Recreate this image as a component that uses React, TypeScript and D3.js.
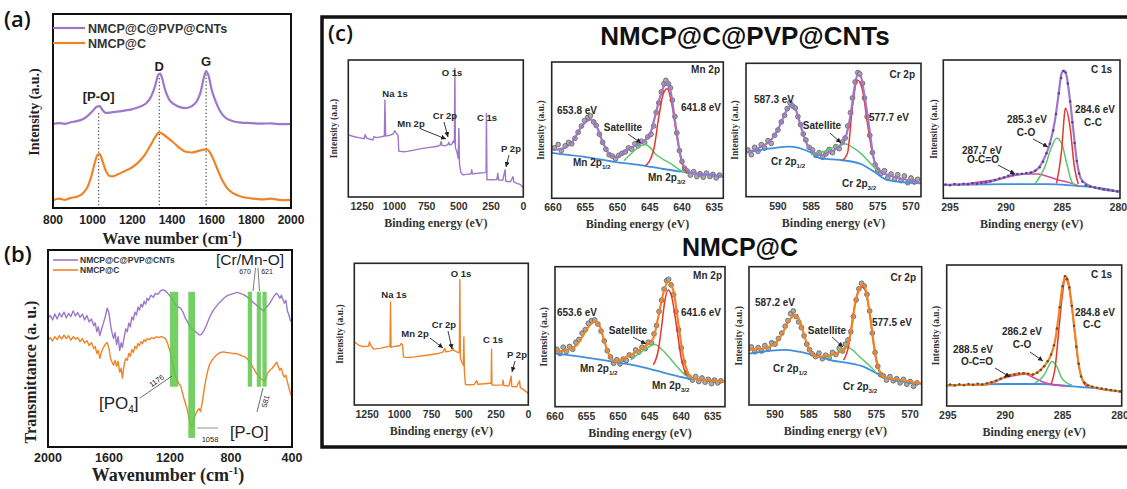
import React from "react";
import * as d3 from "d3";

type P = [number, number];

const SANS = "'Liberation Sans', Arial, Helvetica, sans-serif";
const SERIF = "'Liberation Serif', 'Times New Roman', Times, serif";
const PURPLE = "#9e78c8";
const ORANGE = "#ef8427";
const XBLUE = "#3f8fdc";
const XRED = "#e8362c";
const XGREEN = "#5ec66e";
const XPINK = "#d9479a";
const BAND = "#5cc84a";
const INK = "#2a2a2a";

// ---------------- (a) Raman ----------------
const seriesNames = ["NMCP@C@PVP@CNTs", "NMCP@C"];
const ramanTicks = [800, 1000, 1200, 1400, 1600, 1800, 2000];
const ramanPVP: P[] = [
  [800, 43.3], [830, 43.8], [860, 43.4], [890, 44.2], [920, 44.8], [950, 45.8], [975, 47.5], [1000, 50], [1020, 52.2], [1035, 52.5],
  [1050, 50.5], [1065, 49], [1090, 49.2], [1120, 49.6], [1160, 50.2], [1200, 51], [1240, 52.3], [1270, 54], [1295, 57.5], [1315, 63],
  [1330, 68.5], [1340, 69.3], [1350, 67], [1365, 61], [1385, 56], [1410, 53.5], [1440, 52], [1470, 51.5], [1500, 52.5], [1525, 55],
  [1545, 60], [1560, 67], [1572, 70.6], [1585, 68], [1600, 61], [1620, 55], [1645, 49.5], [1670, 46.5], [1700, 45], [1750, 44],
  [1800, 43.8], [1850, 43.5], [1900, 43.6], [1950, 43.2], [2000, 43.3],
];
const ramanNMCP: P[] = [
  [800, 4], [830, 4.8], [860, 4.2], [890, 5.2], [920, 5.8], [950, 7.5], [975, 11], [995, 17], [1010, 23], [1025, 27.5], [1035, 27.8],
  [1050, 24], [1065, 19.5], [1085, 16.5], [1100, 16.3], [1130, 17.5], [1160, 19], [1200, 21], [1230, 23.5], [1260, 27], [1290, 32],
  [1315, 36.5], [1335, 39], [1355, 38], [1380, 36], [1410, 33.5], [1440, 30.8], [1470, 29], [1500, 28.6], [1530, 29.3], [1555, 30],
  [1575, 30.2], [1595, 28], [1615, 23.5], [1635, 18.5], [1655, 14], [1680, 10], [1710, 7.5], [1750, 5.8], [1800, 5], [1850, 4.4],
  [1900, 4.8], [1950, 4.1], [2000, 4.2],
];
const ramanBands = [
  { wn: 1030, label: "[P-O]", top: 49, labelV: 55 },
  { wn: 1336, label: "D", top: 67, labelV: 70.5 },
  { wn: 1572, label: "G", top: 69, labelV: 73 },
];

// ---------------- (b) FTIR ----------------
const ftirTicks = [2000, 1600, 1200, 800, 400];
const ftirPVP: P[] = [
  [2000, 65.3], [1985, 66.8], [1970, 64.5], [1955, 67.5], [1940, 65], [1925, 68], [1910, 66], [1895, 68.5], [1880, 65.5], [1865, 67.8],
  [1850, 66.2], [1835, 69], [1820, 66.5], [1805, 68.3], [1790, 65.8], [1775, 67.5], [1760, 64.5], [1745, 66.8], [1730, 63.5], [1715, 65],
  [1700, 61.5], [1690, 63], [1680, 58.5], [1670, 61], [1660, 56.5], [1650, 59.5], [1640, 62], [1625, 66], [1612, 70.5], [1600, 68],
  [1590, 62], [1580, 58], [1570, 55], [1560, 58], [1550, 52], [1540, 56], [1530, 49], [1520, 53], [1512, 50.5], [1500, 56], [1490, 60],
  [1480, 58.5], [1470, 63], [1460, 61], [1450, 66], [1440, 64.5], [1430, 68.5], [1420, 67], [1410, 71], [1400, 69.5], [1390, 72.5],
  [1380, 71], [1370, 74], [1360, 72.5], [1350, 75.5], [1340, 74.5], [1325, 77], [1310, 76], [1295, 78], [1280, 77.5], [1265, 79],
  [1250, 79.8], [1235, 79.5], [1220, 78.5], [1205, 77.2], [1190, 75.5], [1175, 73.5], [1160, 72], [1145, 71], [1130, 70.5], [1115, 68.5],
  [1100, 65.5], [1085, 63.5], [1070, 61], [1055, 60], [1040, 59], [1025, 58], [1010, 57], [1000, 56.9], [990, 57.5], [975, 59.5],
  [960, 62], [945, 65], [930, 67.5], [915, 69.5], [900, 71], [880, 73], [860, 74.5], [840, 76], [820, 77], [800, 77.5], [780, 78],
  [760, 78.5], [740, 78], [720, 77.5], [700, 76.5], [685, 75.5], [670, 74.5], [655, 73.5], [640, 72.5], [625, 71.5], [610, 70.5],
  [595, 69.5], [585, 69], [575, 70.5], [560, 71.5], [545, 73], [530, 75], [515, 77], [500, 78], [490, 77], [480, 75.5], [470, 77],
  [460, 75], [450, 73], [440, 74.5], [430, 69], [420, 67], [410, 64], [400, 63.5],
];
const ftirNMCP: P[] = [
  [2000, 54.3], [1985, 55.5], [1970, 53.8], [1955, 56], [1940, 54.5], [1925, 56.5], [1910, 54.8], [1895, 56.8], [1880, 55], [1865, 56.5],
  [1850, 54.2], [1835, 56], [1820, 54.8], [1805, 55.5], [1790, 53.5], [1775, 55], [1760, 52.8], [1745, 54], [1730, 51.5], [1715, 53],
  [1700, 50], [1690, 51], [1680, 47.5], [1670, 49], [1660, 45], [1650, 48], [1640, 50], [1625, 52], [1612, 53], [1600, 50], [1590, 45],
  [1580, 43], [1570, 41.5], [1560, 44], [1550, 41], [1540, 43.5], [1530, 38], [1520, 40], [1512, 35], [1500, 42], [1490, 45], [1480, 44],
  [1470, 47.5], [1460, 46], [1450, 49.5], [1440, 48], [1430, 51], [1420, 50], [1410, 52.5], [1400, 51.5], [1390, 53.5], [1380, 52.5],
  [1370, 54.5], [1360, 53.5], [1350, 55], [1335, 54.5], [1320, 55.5], [1305, 55], [1290, 56], [1275, 55.5], [1260, 56], [1245, 55.8],
  [1230, 55], [1215, 52.5], [1200, 48.5], [1190, 45], [1180, 41], [1170, 37.5], [1160, 35], [1150, 33.5], [1140, 32], [1130, 31],
  [1120, 28], [1110, 25], [1100, 22.5], [1090, 20], [1080, 16.5], [1070, 13], [1060, 10.5], [1050, 11.5], [1040, 15], [1030, 17],
  [1020, 18.5], [1010, 19.5], [1000, 18], [990, 22], [980, 27], [970, 32], [960, 36], [950, 39.5], [940, 42], [925, 44], [910, 45.5],
  [890, 47], [870, 48], [850, 48.3], [830, 48], [810, 47.8], [790, 47.5], [770, 47.5], [750, 47], [735, 46.5], [720, 46], [705, 45.5],
  [690, 44.5], [675, 43], [660, 41], [645, 39], [630, 37], [615, 35.5], [600, 34.5], [590, 34], [580, 33.5], [570, 35], [560, 37.5],
  [545, 39], [530, 40], [515, 41.5], [500, 43], [490, 41], [480, 39], [470, 40], [460, 37], [450, 35.5], [440, 36.5], [430, 33],
  [420, 30], [410, 27], [400, 25.6],
];
// [from wn, to wn, bottom, top]
const ftirBands: [number, number, number, number][] = [
  [1200, 1146, 30.6, 78.8],
  [1080, 1036, 4.6, 78.8],
  [690, 662, 30.6, 78.8],
  [631, 604, 30.6, 78.8],
  [594, 566, 30.6, 78.8],
];

// ---------------- (c) XPS ----------------
const surveyTicks = [1250, 1000, 750, 500, 250, 0];
const mnTicks = [660, 655, 650, 645, 640, 635];
const crTicks = [590, 585, 580, 575, 570];
const c1sTicks = [295, 290, 285, 280];

const surveyPVP: P[] = [
  [1358, 45.3], [1330, 44.5], [1300, 43.8], [1270, 43.2], [1235, 42.5], [1228, 45.5], [1215, 43], [1180, 42], [1168, 41.5], [1160, 44],
  [1140, 43.3], [1100, 44], [1078, 44.5], [1074, 70.8], [1068, 44.5], [1040, 45], [1010, 46], [998, 48.4], [985, 46.5], [972, 45],
  [966, 33.5], [930, 33], [900, 33.3], [860, 34], [820, 34.8], [780, 35.5], [740, 36], [700, 36.5], [660, 37.2], [645, 37.8], [638, 40.5],
  [630, 37.5], [600, 37.5], [585, 38.5], [578, 40], [572, 38], [555, 38.5], [542, 41], [535, 39.5], [531, 93.9], [527, 36], [515, 33],
  [505, 28], [500, 50.1], [495, 24], [485, 18], [470, 16.2], [440, 16.5], [405, 17], [400, 19.9], [395, 17], [350, 17.3], [300, 17.8],
  [289, 18], [286, 61], [282, 12.5], [250, 12.6], [205, 12.8], [198, 17.3], [192, 12.5], [160, 12.2], [141, 19.9], [136, 11.5],
  [100, 11.1], [80, 14.8], [74, 11], [50, 10], [25, 9.2], [0, 6.9],
];
const surveyNMCP: P[] = [
  [1350, 44.6], [1320, 42.5], [1290, 41.3], [1240, 41.5], [1232, 44.6], [1222, 42], [1200, 39.4], [1150, 40], [1100, 41], [1073, 41.5],
  [1069, 72.7], [1065, 40.7], [1030, 41.5], [995, 42], [985, 43.5], [975, 42], [968, 33.8], [930, 33.5], [880, 34], [820, 34.8],
  [760, 35.5], [700, 36.3], [660, 37.5], [648, 40], [640, 37.5], [610, 38], [592, 38.5], [586, 40.5], [578, 38.5], [555, 37.5],
  [540, 37], [535, 37], [531, 88.5], [527, 33], [515, 30], [504, 28], [500, 48.1], [496, 24], [488, 14.5], [460, 14.3], [420, 14.5],
  [400, 17.1], [392, 14.6], [340, 15], [300, 15.3], [288, 15.4], [285, 39.4], [282, 14.1], [240, 14], [200, 14.2], [195, 17.5],
  [190, 13.8], [150, 13.5], [133, 20.4], [128, 13], [90, 12.9], [68, 17.1], [62, 12.3], [40, 11], [20, 9.6], [0, 8.2],
];

// Mn 2p (top: NMCP@C@PVP@CNTs)
const mnTopEnv: P[] = [
  [660.2, 35.4], [658.4, 36.6], [656.8, 42.7], [655.8, 51.2], [654.5, 57.3], [654.0, 57.8], [653.2, 52.4], [652.2, 40.2], [651.1, 31.7],
  [650.1, 30.4], [648.6, 35.4], [647.0, 39.0], [645.7, 42.7], [644.9, 47.6], [644.2, 59.7], [643.4, 74.4], [642.6, 84.1], [642.3, 85.0],
  [641.8, 79.2], [641.1, 57.3], [640.3, 32.9], [639.5, 21.9], [638.2, 18.3], [636.1, 17.1], [633.6, 15.9],
];
const mnTopBg: P[] = [
  [660.2, 33.4], [655.3, 30.5], [650.6, 26.8], [646.5, 24.4], [642.9, 21.5], [640.0, 19.5], [636.1, 17.5], [633.6, 16.3],
];
const mnTopRed: P[] = [
  [645.7, 23.6], [644.4, 35.4], [643.6, 59.7], [642.9, 76.8], [642.3, 80.4], [641.6, 69.5], [640.8, 45.2], [640.0, 25.6], [639.2, 18.7],
];
const mnTopGreen: P[] = [
  [649.0, 27.5], [647.5, 34.5], [646.5, 38.3], [645.7, 39.5], [644.9, 37.0], [644.2, 32.9], [643.0, 28.8], [641.8, 25.6], [640.3, 20.7], [639.2, 18.5],
];
const mnTopData: P[] = [
  [659.8, 37], [659.2, 39.5], [658.7, 35], [658.1, 38.5], [657.6, 41], [657.1, 40], [656.6, 44], [656.1, 48.5], [655.6, 53], [655.1, 57],
  [654.6, 59.5], [654.2, 60.5], [653.7, 56], [653.3, 53.5], [652.8, 47], [652.3, 41], [651.8, 36], [651.3, 32], [650.8, 31], [650.3, 29],
  [649.8, 31.5], [649.3, 33], [648.8, 34], [648.3, 37], [647.8, 36], [647.3, 40], [646.8, 38.5], [646.3, 42], [645.8, 41], [645.3, 45],
  [644.8, 47], [644.4, 53], [644.0, 63], [643.6, 70], [643.2, 78], [642.8, 84], [642.5, 86.5], [642.1, 84], [641.8, 81], [641.5, 72],
  [641.1, 60], [640.8, 48], [640.4, 35], [640.0, 27], [639.6, 22], [639.2, 20], [638.7, 17], [638.2, 19.5], [637.7, 16], [637.2, 18],
  [636.7, 15.5], [636.2, 18.5], [635.7, 16], [635.2, 17.5], [634.7, 15], [634.2, 17],
];

// Cr 2p (top)
const crTopEnv: P[] = [
  [594.8, 33.0], [594.3, 33.7], [592.55, 37.5], [591.05, 42.5], [589.8, 52.5], [588.8, 63.7], [588.05, 68.7], [587.3, 64.9], [586.55, 52.5],
  [585.8, 41.2], [584.8, 33.7], [583.55, 31.2], [582.05, 33.7], [580.55, 38.7], [579.8, 45.0], [579.05, 62.5], [578.55, 80.0], [578.05, 91.2],
  [577.55, 90.0], [577.05, 77.5], [576.3, 52.5], [575.55, 27.5], [574.55, 18.7], [572.55, 15.0], [570.55, 12.5], [568.5, 10.0],
];
const crTopBg: P[] = [
  [594.8, 33.0], [591.05, 36.2], [588.3, 37.5], [585.3, 33.7], [583.55, 28.7], [580.55, 27.5], [577.55, 24.5], [575.55, 18.7], [573.55, 12.5], [568.5, 10.0],
];
const crTopRed: P[] = [
  [580.3, 27.0], [579.55, 32.5], [578.8, 67.5], [578.05, 87.5], [577.3, 80.0], [576.55, 55.0], [575.8, 32.5], [575.05, 21.2], [574.55, 19.0],
];
const crTopGreen: P[] = [
  [585.0, 31.5], [582.8, 34.5], [580.8, 38.5], [579.8, 39.5], [578.8, 37.0], [577.55, 32.5], [576.55, 27.5], [575.55, 22.0], [575.05, 19.5],
];
const crTopData: P[] = [
  [594.5, 35], [594.0, 31.5], [593.5, 37], [593.0, 34], [592.5, 39], [592.0, 36.5], [591.5, 42], [591.0, 40], [590.5, 46], [590.0, 50],
  [589.5, 56], [589.0, 61], [588.6, 66], [588.2, 70.5], [587.8, 68], [587.4, 66.5], [587.0, 60], [586.6, 54], [586.2, 47], [585.8, 42.5],
  [585.3, 37], [584.8, 35], [584.3, 31], [583.8, 33], [583.3, 29.5], [582.8, 32], [582.3, 35.5], [581.8, 33], [581.3, 37.5], [580.8, 36],
  [580.3, 41], [579.9, 44], [579.5, 53], [579.1, 63], [578.8, 74], [578.4, 86], [578.0, 93], [577.7, 92], [577.3, 85], [577.0, 74],
  [576.6, 60], [576.2, 46], [575.8, 33], [575.4, 24], [575.0, 20], [574.5, 17.5], [574.0, 19.5], [573.5, 14], [573.0, 17], [572.5, 13],
  [572.0, 16.5], [571.5, 12], [571.0, 15.5], [570.5, 10.5], [570.0, 14], [569.5, 11], [569.0, 13],
];

// C 1s (top)
const c1sTopEnv: P[] = [
  [295.6, 9.6], [293.67, 10.2], [292.18, 10.8], [290.7, 13.7], [289.5, 16.8], [288.0, 18.0], [287.13, 21.7], [286.54, 30.1], [286.09, 39.8],
  [285.64, 56.6], [285.35, 73.5], [285.05, 90.4], [284.84, 92.3], [284.6, 88.0], [284.31, 71.1], [284.01, 49.4], [283.71, 27.7],
  [283.27, 13.3], [282.37, 8.4], [279.85, 4.8],
];
const c1sTopBg: P[] = [[295.6, 9.6], [290.0, 10.3], [286.24, 10.3], [283.92, 9.1], [282.0, 7.8], [279.85, 4.8]];
const c1sTopRed: P[] = [
  [285.5, 10.8], [285.05, 34.9], [284.75, 63.9], [284.69, 65.1], [284.31, 51.8], [283.92, 22.9], [283.57, 10.3],
];
const c1sTopGreen: P[] = [
  [287.43, 10.3], [286.54, 22.9], [285.94, 37.3], [285.5, 43.4], [285.05, 39.8], [284.6, 25.2], [284.16, 12.1], [283.86, 9.6],
];
const c1sTopPink: P[] = [
  [293.67, 10.3], [290.7, 13.7], [288.3, 17.5], [287.13, 17.5], [286.24, 15.6], [285.35, 13.3], [284.46, 11.5], [283.57, 9.1],
];
const c1sTopData: P[] = [
  [295.4, 10.0], [295.0, 9.5], [294.6, 10.3], [294.2, 9.8], [293.8, 10.6], [293.4, 10.1], [293.0, 10.9], [292.6, 10.5], [292.2, 11.2],
  [291.8, 11.6], [291.4, 12.4], [291.0, 13.2], [290.6, 14.3], [290.2, 15.1], [289.8, 16.3], [289.4, 16.9], [289.0, 17.6], [288.6, 17.8],
  [288.2, 18.3], [287.8, 18.6], [287.4, 19.9], [287.0, 22.5], [286.7, 26.5], [286.4, 32.5], [286.1, 39.5], [285.8, 49], [285.55, 61],
  [285.3, 76], [285.1, 87], [284.9, 92], [284.7, 91], [284.5, 83], [284.3, 70], [284.1, 55], [283.9, 40], [283.7, 27], [283.5, 18],
  [283.2, 12], [282.9, 9.5], [282.5, 8.6], [282.1, 7.8], [281.7, 7.2], [281.3, 6.6], [280.9, 6.0], [280.5, 5.5], [280.1, 5.0],
];

// Mn 2p (bottom: NMCP@C)
const mnBotEnv: P[] = [
  [660, 39.3], [658.15, 40.5], [656.57, 44], [655.51, 51.2], [654.45, 58.3], [653.66, 60.7], [652.87, 57.1], [652.08, 45.2], [651.28, 35.7],
  [650.23, 32.1], [648.64, 35.7], [647.06, 39.3], [645.47, 44], [644.42, 48.8], [643.62, 64.3], [642.83, 81], [642.04, 89.3], [641.25, 83.3],
  [640.45, 59.5], [639.66, 35.7], [638.87, 23.8], [638.08, 20.2], [635.96, 19.1], [633.06, 17.9],
];
const mnBotBg: P[] = [
  [660, 38.1], [656.0, 35.7], [650.75, 32.1], [646.5, 28.6], [643.9, 25.7], [641.25, 22.6], [638.87, 20.2], [635.96, 19.1], [633.06, 17.9],
];
const mnBotRed: P[] = [
  [644.42, 29.8], [643.62, 40.5], [643.1, 57.1], [642.57, 76.2], [642.04, 83.3], [641.51, 78.6], [640.72, 57.1], [639.93, 33.3], [639.13, 22.6],
];
const mnBotGreen: P[] = [
  [648.0, 33.5], [646.5, 38.5], [645.0, 43], [644.15, 44.5], [643.1, 41], [642.04, 36], [640.72, 29], [639.66, 24], [638.87, 21],
];
const mnBotData: P[] = [
  [659.7, 41], [659.2, 38], [658.7, 42.5], [658.2, 39.5], [657.7, 43], [657.2, 41], [656.7, 46], [656.2, 48], [655.7, 52.5], [655.2, 55],
  [654.7, 59.5], [654.2, 61.5], [653.7, 62], [653.2, 59], [652.7, 54], [652.2, 47], [651.7, 40], [651.2, 35.5], [650.7, 31], [650.2, 33.5],
  [649.7, 30.5], [649.2, 34], [648.7, 33], [648.2, 37], [647.7, 36], [647.2, 40.5], [646.7, 39], [646.2, 42.5], [645.7, 41.5], [645.2, 46],
  [644.7, 45.5], [644.3, 52], [643.9, 58], [643.5, 68], [643.1, 76], [642.7, 84], [642.3, 90], [642.0, 91], [641.6, 87], [641.2, 80],
  [640.8, 68], [640.4, 55], [640.0, 42], [639.6, 32], [639.2, 24], [638.7, 21], [638.2, 19], [637.7, 21.5], [637.2, 18], [636.7, 20.5],
  [636.2, 17.5], [635.7, 19.5], [635.2, 16.5], [634.7, 19], [634.2, 17], [633.7, 18.5],
];

// Cr 2p (bottom)
const crBotEnv: P[] = [
  [593.85, 39.5], [593.7, 39.8], [591.73, 41], [590.25, 43.4], [589.01, 50.6], [588.02, 60.2], [587.04, 65.1], [586.29, 60.2], [585.55, 48.2],
  [584.81, 38.5], [583.58, 34.9], [581.85, 36.1], [580.37, 38.5], [579.38, 42.2], [578.64, 56.6], [578.15, 73.5], [577.5, 84.4], [577.01, 86.8],
  [576.52, 82], [575.92, 63.9], [575.33, 42.2], [574.69, 26.5], [573.95, 20.5], [571.48, 18.1], [568.3, 15.5],
];
const crBotBg: P[] = [
  [593.85, 37.2], [588.6, 39.8], [584.32, 36.1], [581.85, 32.5], [578.89, 30.1], [576.91, 27.7], [574.94, 22.9], [572.47, 18.1], [568.3, 15.5],
];
const crBotRed: P[] = [
  [579.87, 32.5], [579.13, 42.2], [578.49, 63.9], [577.9, 78.3], [577.16, 85.5], [576.67, 83.1], [576.07, 68.7], [575.43, 44.6], [574.84, 27.7], [574.2, 22.4],
];
const crBotGreen: P[] = [
  [582.5, 34], [581.0, 37.5], [579.9, 41], [579.38, 42], [578.6, 40], [577.4, 34.5], [575.92, 28], [574.94, 23],
];
const crBotData: P[] = [
  [593.5, 42], [593.0, 38.5], [592.5, 41.5], [592.0, 39], [591.5, 43], [591.0, 40.5], [590.5, 45], [590.0, 44], [589.5, 48], [589.0, 52],
  [588.5, 57], [588.1, 61], [587.7, 66], [587.3, 68], [586.9, 64], [586.5, 60], [586.1, 56], [585.7, 50], [585.3, 44], [584.9, 40],
  [584.5, 37], [584.0, 35], [583.5, 37.5], [583.0, 33.5], [582.5, 36], [582.0, 34], [581.5, 38], [581.0, 36.5], [580.5, 41], [580.0, 39],
  [579.6, 44], [579.2, 47], [578.8, 53], [578.4, 64], [578.0, 76], [577.6, 84], [577.2, 88], [576.8, 86], [576.4, 80], [576.0, 68],
  [575.6, 52], [575.2, 38], [574.8, 28], [574.4, 22], [574.0, 21], [573.5, 18], [573.0, 20.5], [572.5, 17.5], [572.0, 19], [571.5, 16],
  [571.0, 18.5], [570.5, 15], [570.0, 17], [569.5, 13.5], [569.0, 16],
];

// C 1s (bottom)
const c1sBotEnv: P[] = [
  [295.1, 14.9], [292.04, 14.9], [290.88, 17.3], [290.01, 20.8], [289.13, 22.7], [288.26, 23.2], [287.68, 22.0], [287.1, 24.4], [286.52, 29.1],
  [286.08, 35.0], [285.64, 46.8], [285.35, 63.4], [285.06, 82.3], [284.77, 92.2], [284.48, 87.0], [284.18, 70.4], [283.89, 49.2], [283.61, 30.3],
  [283.17, 17.3], [282.44, 13.7], [279.85, 10.2],
];
const c1sBotBg: P[] = [[295.1, 14.5], [290.0, 15.6], [287.0, 15.6], [284.5, 14.2], [282.4, 12.8], [279.85, 10.2]];
const c1sBotRed: P[] = [
  [286.0, 15.5], [285.64, 28], [285.35, 52], [285.06, 76], [284.77, 90], [284.48, 85.5], [284.18, 69], [283.89, 48], [283.61, 29.5], [283.17, 16.5], [282.9, 14],
];
const c1sBotGreen: P[] = [
  [287.4, 16.3], [286.52, 23.2], [286.08, 30.3], [285.94, 31.5], [285.5, 27.9], [285.06, 19.6], [284.62, 16.3], [284.18, 14.9],
];
const c1sBotPink: P[] = [
  [291.46, 16.3], [289.72, 20.8], [288.26, 22.5], [287.4, 19.6], [286.52, 16.5], [285.64, 14.9], [284.77, 14.4],
];
const c1sBotData: P[] = [
  [294.8, 15.2], [294.4, 14.6], [294.0, 15.4], [293.6, 14.8], [293.2, 15.6], [292.8, 15.0], [292.4, 15.8], [292.0, 15.3], [291.6, 16.1],
  [291.2, 16.8], [290.8, 17.9], [290.4, 19.4], [290.0, 20.6], [289.6, 21.8], [289.2, 22.4], [288.8, 23.1], [288.4, 23.3], [288.0, 22.8],
  [287.6, 22.4], [287.2, 23.6], [286.9, 25.5], [286.6, 28.2], [286.3, 31.8], [286.0, 36.5], [285.75, 43], [285.5, 55], [285.25, 70],
  [285.0, 85], [284.8, 92], [284.6, 90], [284.4, 84], [284.2, 71], [284.0, 57], [283.8, 42], [283.6, 30], [283.4, 21], [283.1, 16.5],
  [282.8, 14.5], [282.4, 13.6], [282.0, 13.0], [281.6, 12.4], [281.2, 11.9], [280.8, 11.3], [280.4, 10.8], [280.0, 10.3],
];

// ---------------- components ----------------
type Ann = { x: number; y: number; t: string; sub?: string; a?: "start" | "middle" | "end"; fs?: number };
type Curve = { d: P[]; c: string; w: number; linear?: boolean };

function Label({ x, y, t, sub, a = "middle", fs = 10 }: Ann) {
  return (
    <text x={x} y={y} textAnchor={a} fontFamily={SANS} fontWeight="bold" fontSize={fs} fill={INK}>
      {t}
      {sub ? (
        <tspan dy={2.6} fontSize={fs * 0.62}>
          {sub}
        </tspan>
      ) : null}
    </text>
  );
}

function XpsPanel(props: {
  id: string;
  box: [number, number, number, number];
  domain: [number, number];
  ticks: number[];
  curves: Curve[];
  circles?: P[];
  dots?: { d: P[]; c: string };
  anns: Ann[];
  arrows: [number, number, number, number][];
  yLabelX: number;
}) {
  const [l, t, r, b] = props.box;
  const x = d3.scaleLinear().domain(props.domain).range([l, r]);
  const y = d3.scaleLinear().domain([0, 100]).range([b, t]);
  const smooth = d3.line<P>().x((d) => x(d[0])).y((d) => y(d[1])).curve(d3.curveMonotoneX);
  const lin = d3.line<P>().x((d) => x(d[0])).y((d) => y(d[1]));
  return (
    <g>
      <clipPath id={props.id}>
        <rect x={l} y={t} width={r - l} height={b - t} />
      </clipPath>
      <g clipPath={`url(#${props.id})`}>
        {props.circles
          ? props.circles.map((d, i) => (
              <circle key={i} cx={x(d[0])} cy={y(d[1])} r={2.4} fill="#a9a9a9" stroke="#5e5e5e" strokeWidth={0.8} />
            ))
          : null}
        {props.curves.map((c, i) => (
          <path key={i} d={(c.linear ? lin : smooth)(c.d) || ""} fill="none" stroke={c.c} strokeWidth={c.w} strokeLinejoin="round" />
        ))}
        {props.dots
          ? props.dots.d.map((d, i) => <circle key={i} cx={x(d[0])} cy={y(d[1])} r={1.25} fill={props.dots!.c} />)
          : null}
      </g>
      <rect x={l} y={t} width={r - l} height={b - t} fill="none" stroke="#262626" strokeWidth={1.6} />
      {props.ticks.map((v) => (
        <text key={v} x={x(v)} y={b + 13} textAnchor="middle" fontFamily={SANS} fontWeight="bold" fontSize={10.5} fill="#333">
          {v}
        </text>
      ))}
      <text x={(l + r) / 2} y={b + 30} textAnchor="middle" fontFamily={SERIF} fontWeight="bold" fontSize={12} fill="#333">
        Binding energy (eV)
      </text>
      <text
        transform={`translate(${props.yLabelX},${(t + b) / 2}) rotate(-90)`}
        textAnchor="middle"
        fontFamily={SERIF}
        fontWeight="bold"
        fontSize={9.5}
        fill="#333"
      >
        Intensity (a.u.)
      </text>
      {props.anns.map((a, i) => (
        <Label key={i} {...a} />
      ))}
      {props.arrows.map((ar, i) => (
        <line key={i} x1={ar[0]} y1={ar[1]} x2={ar[2]} y2={ar[3]} stroke="#222" strokeWidth={0.9} markerEnd="url(#ah)" />
      ))}
    </g>
  );
}

function RamanPanel() {
  const x = d3.scaleLinear().domain([800, 2000]).range([53, 291]);
  const y = d3.scaleLinear().domain([0, 100]).range([208, 14]);
  const line = d3.line<P>().x((d) => x(d[0])).y((d) => y(d[1])).curve(d3.curveMonotoneX);
  return (
    <g>
      {ramanBands.map((b) => (
        <line key={b.wn} x1={x(b.wn)} x2={x(b.wn)} y1={y(b.top)} y2={y(0)} stroke="#555" strokeWidth={1.3} strokeDasharray="1.3,2.2" />
      ))}
      <path d={line(ramanPVP) || ""} fill="none" stroke={PURPLE} strokeWidth={2.2} />
      <path d={line(ramanNMCP) || ""} fill="none" stroke={ORANGE} strokeWidth={2.2} />
      {ramanBands.map((b) => (
        <text key={b.label} x={x(b.wn)} y={y(b.labelV)} textAnchor="middle" fontFamily={SANS} fontWeight="bold" fontSize={13} fill="#222">
          {b.label}
        </text>
      ))}
      <rect x={53} y={14} width={238} height={194} fill="none" stroke="#111" strokeWidth={2} />
      {ramanTicks.map((v) => (
        <text key={v} x={x(v)} y={224} textAnchor="middle" fontFamily={SANS} fontWeight="bold" fontSize={12} fill="#222">
          {v}
        </text>
      ))}
      <line x1={53} x2={85} y1={28} y2={28} stroke={PURPLE} strokeWidth={2.2} />
      <text x={88} y={33} fontFamily={SANS} fontWeight="bold" fontSize={12.5} fill="#333">
        {seriesNames[0]}
      </text>
      <line x1={53} x2={85} y1={43} y2={43} stroke={ORANGE} strokeWidth={2.2} />
      <text x={88} y={48} fontFamily={SANS} fontWeight="bold" fontSize={12.5} fill="#333">
        {seriesNames[1]}
      </text>
      <text transform="translate(39,112) rotate(-90)" textAnchor="middle" fontFamily={SERIF} fontWeight="bold" fontSize={14} fill="#222">
        Intensity (a.u.)
      </text>
      <text x={172} y={244} textAnchor="middle" fontFamily={SERIF} fontWeight="bold" fontSize={16} fill="#222">
        Wave number (cm<tspan dy={-6} fontSize={10}>-1</tspan>
        <tspan dy={6}>)</tspan>
      </text>
      <text x={4} y={27} fontFamily="'Open Sans', Arial, sans-serif" fontWeight={600} fontSize={22} fill="#111">
        (a)
      </text>
    </g>
  );
}

function FtirPanel() {
  const x = d3.scaleLinear().domain([2000, 400]).range([48, 292]);
  const y = d3.scaleLinear().domain([0, 100]).range([447, 250]);
  const line = d3.line<P>().x((d) => x(d[0])).y((d) => y(d[1]));
  return (
    <g>
      <path d={line(ftirPVP) || ""} fill="none" stroke={PURPLE} strokeWidth={1.4} strokeLinejoin="round" />
      <path d={line(ftirNMCP) || ""} fill="none" stroke={ORANGE} strokeWidth={1.4} strokeLinejoin="round" />
      {ftirBands.map((b, i) => (
        <rect key={i} x={x(b[0])} width={x(b[1]) - x(b[0])} y={y(b[3])} height={y(b[2]) - y(b[3])} fill={BAND} opacity={0.85} />
      ))}
      <rect x={48} y={250} width={244} height={197} fill="none" stroke="#111" strokeWidth={2} />
      {ftirTicks.map((v) => (
        <text key={v} x={x(v)} y={462} textAnchor="middle" fontFamily={SANS} fontWeight="bold" fontSize={12.5} fill="#222">
          {v}
        </text>
      ))}
      <line x1={53} x2={78} y1={260} y2={260} stroke={PURPLE} strokeWidth={1.6} />
      <text x={80} y={263} fontFamily={SANS} fontWeight="bold" fontSize={8.5} fill="#333">
        {seriesNames[0]}
      </text>
      <line x1={53} x2={78} y1={270} y2={270} stroke={ORANGE} strokeWidth={1.6} />
      <text x={80} y={273} fontFamily={SANS} fontWeight="bold" fontSize={8.5} fill="#333">
        {seriesNames[1]}
      </text>
      <text x={216} y={265} fontFamily={SANS} fontSize={15.5} fill="#222">
        [Cr/Mn-O]
      </text>
      <text x={245} y={274} textAnchor="middle" fontFamily={SANS} fontSize={7} fill="#222">670</text>
      <text x={267} y={274} textAnchor="middle" fontFamily={SANS} fontSize={7} fill="#222">621</text>
      <line x1={253} y1={291} x2={255.5} y2={268} stroke="#444" strokeWidth={0.7} />
      <line x1={258} y1={268} x2={259.5} y2={291} stroke="#444" strokeWidth={0.7} />
      <line x1={140} y1={398} x2={172} y2={376} stroke="#444" strokeWidth={0.8} />
      <text transform="translate(158,383) rotate(-35)" textAnchor="middle" fontFamily={SANS} fontSize={7.5} fill="#222">1176</text>
      <text x={99} y={409} fontFamily={SANS} fontSize={17} fill="#222">
        [PO<tspan dy={4} fontSize={10}>4</tspan>
        <tspan dy={-4}>]</tspan>
      </text>
      <line x1={197} y1={428} x2={218} y2={428} stroke="#777" strokeWidth={0.8} />
      <text x={210} y={442} textAnchor="middle" fontFamily={SANS} fontSize={7.5} fill="#222">1058</text>
      <text x={230} y={438} fontFamily={SANS} fontSize={16.5} fill="#222">[P-O]</text>
      <line x1={263} y1={388} x2={257} y2={412} stroke="#444" strokeWidth={0.8} />
      <text transform="translate(268,402) rotate(-75)" textAnchor="middle" fontFamily={SANS} fontSize={7.5} fill="#222">581</text>
      <text transform="translate(36,372) rotate(-90)" textAnchor="middle" fontFamily={SERIF} fontWeight="bold" fontSize={16} fill="#222">
        Transmittance (a. u.)
      </text>
      <text x={168} y={481} textAnchor="middle" fontFamily={SERIF} fontWeight="bold" fontSize={18} fill="#222">
        Wavenumber (cm<tspan dy={-7} fontSize={11}>-1</tspan>
        <tspan dy={7}>)</tspan>
      </text>
      <text x={4} y={262} fontFamily="'Open Sans', Arial, sans-serif" fontWeight={600} fontSize={22} fill="#111">
        (b)
      </text>
    </g>
  );
}

export default function App() {
  return (
    <svg width={1127} height={489} style={{ position: "absolute", left: 0, top: 0, background: "#fff" }}>
      <defs>
        <marker id="ah" viewBox="0 0 6 6" refX={6} refY={3} markerWidth={5} markerHeight={5} orient="auto" markerUnits="userSpaceOnUse">
          <path d="M0,0 L6,3 L0,6 Z" fill="#222" />
        </marker>
      </defs>
      <rect x={0} y={0} width={1127} height={489} fill="#fff" />
      <RamanPanel />
      <FtirPanel />

      {/* (c) frame */}
      <rect x={322} y={17} width={830} height={430} fill="none" stroke="#111" strokeWidth={3.5} />
      <text x={328} y={41} fontFamily="'Open Sans', Arial, sans-serif" fontWeight={600} fontSize={22} fill="#111">
        (c)
      </text>
      <text x={745} y={45} textAnchor="middle" fontFamily={SANS} fontWeight="bold" fontSize={26} fill="#111">
        {seriesNames[0]}
      </text>
      <text x={740} y={256} textAnchor="middle" fontFamily={SANS} fontWeight="bold" fontSize={25} fill="#111">
        {seriesNames[1]}
      </text>

      {/* top row */}
      <XpsPanel
        id="s1"
        box={[348.3, 60, 523.3, 197]}
        domain={[1358, 0]}
        ticks={surveyTicks}
        curves={[{ d: surveyPVP, c: PURPLE, w: 1.4, linear: true }]}
        anns={[
          { x: 395, y: 97, t: "Na 1s", fs: 9.5 },
          { x: 452, y: 76, t: "O 1s", fs: 9.5 },
          { x: 445, y: 119, t: "Cr 2p", fs: 9.5 },
          { x: 411, y: 127, t: "Mn 2p", fs: 9.5 },
          { x: 487, y: 121, t: "C 1s", fs: 9.5 },
          { x: 511, y: 152, t: "P 2p", fs: 9.5 },
        ]}
        arrows={[
          [421, 129, 446, 139],
          [444, 122, 448, 137],
          [509, 155, 506, 167],
        ]}
        yLabelX={337}
      />
      <XpsPanel
        id="m1"
        box={[551.7, 62, 723.3, 198.3]}
        domain={[660.2, 633.6]}
        ticks={mnTicks}
        circles={mnTopData}
        curves={[
          { d: mnTopBg, c: XBLUE, w: 1.8 },
          { d: mnTopGreen, c: XGREEN, w: 1.5 },
          { d: mnTopRed, c: XRED, w: 1.5 },
          { d: mnTopEnv, c: PURPLE, w: 2.2 },
        ]}
        anns={[
          { x: 720, y: 73, t: "Mn 2p", a: "end" },
          { x: 577, y: 114, t: "653.8 eV" },
          { x: 701, y: 111, t: "641.8 eV" },
          { x: 623, y: 131, t: "Satellite" },
          { x: 573, y: 166, t: "Mn 2p", sub: "1/2", a: "start" },
          { x: 648, y: 181, t: "Mn 2p", sub: "3/2", a: "start" },
        ]}
        arrows={[[628, 134, 641, 143]]}
        yLabelX={544}
      />
      <XpsPanel
        id="c1"
        box={[746, 63.3, 921, 196.7]}
        domain={[594.8, 568.5]}
        ticks={crTicks}
        circles={crTopData}
        curves={[
          { d: crTopBg, c: XBLUE, w: 1.8 },
          { d: crTopGreen, c: XGREEN, w: 1.5 },
          { d: crTopRed, c: XRED, w: 1.5 },
          { d: crTopEnv, c: PURPLE, w: 2.2 },
        ]}
        anns={[
          { x: 915, y: 78, t: "Cr 2p", a: "end" },
          { x: 774, y: 103, t: "587.3 eV" },
          { x: 889, y: 121, t: "577.7 eV" },
          { x: 822, y: 129, t: "Satellite" },
          { x: 771, y: 165, t: "Cr 2p", sub: "1/2", a: "start" },
          { x: 842, y: 187, t: "Cr 2p", sub: "3/2", a: "start" },
        ]}
        arrows={[[830, 133, 841, 143]]}
        yLabelX={738}
      />
      <XpsPanel
        id="k1"
        box={[943.3, 60, 1120, 198.3]}
        domain={[295.6, 279.85]}
        ticks={c1sTicks}
        curves={[
          { d: c1sTopBg, c: XBLUE, w: 1.8 },
          { d: c1sTopPink, c: XPINK, w: 1.5 },
          { d: c1sTopGreen, c: XGREEN, w: 1.5 },
          { d: c1sTopRed, c: XRED, w: 1.5 },
          { d: c1sTopEnv, c: PURPLE, w: 2.2 },
        ]}
        dots={{ d: c1sTopData, c: "#5b3f86" }}
        anns={[
          { x: 1112, y: 73, t: "C 1s", a: "end" },
          { x: 1095, y: 113, t: "284.6 eV" },
          { x: 1093, y: 126, t: "C-C" },
          { x: 1027, y: 123, t: "285.3 eV" },
          { x: 1026, y: 136, t: "C-O" },
          { x: 982, y: 154, t: "287.7 eV" },
          { x: 983, y: 163, t: "O-C=O" },
        ]}
        arrows={[
          [1033, 139, 1048, 147],
          [998, 165, 1015, 174],
        ]}
        yLabelX={937}
      />

      {/* bottom row */}
      <XpsPanel
        id="s2"
        box={[354.3, 263.3, 528.3, 405]}
        domain={[1350, 0]}
        ticks={surveyTicks}
        curves={[{ d: surveyNMCP, c: ORANGE, w: 1.4, linear: true }]}
        anns={[
          { x: 394, y: 298, t: "Na 1s", fs: 9.5 },
          { x: 461, y: 277, t: "O 1s", fs: 9.5 },
          { x: 444, y: 328, t: "Cr 2p", fs: 9.5 },
          { x: 415, y: 337, t: "Mn 2p", fs: 9.5 },
          { x: 493, y: 343, t: "C 1s", fs: 9.5 },
          { x: 517, y: 358, t: "P 2p", fs: 9.5 },
        ]}
        arrows={[
          [430, 338, 443, 348],
          [448, 331, 452, 349],
          [515, 361, 512, 372],
        ]}
        yLabelX={343}
      />
      <XpsPanel
        id="m2"
        box={[555, 266.7, 725, 406.7]}
        domain={[660, 633.05]}
        ticks={mnTicks}
        circles={mnBotData}
        curves={[
          { d: mnBotBg, c: XBLUE, w: 1.8 },
          { d: mnBotGreen, c: XGREEN, w: 1.5 },
          { d: mnBotRed, c: XRED, w: 1.5 },
          { d: mnBotEnv, c: ORANGE, w: 2.2 },
        ]}
        anns={[
          { x: 722, y: 279, t: "Mn 2p", a: "end" },
          { x: 577, y: 316, t: "653.6 eV" },
          { x: 701, y: 316, t: "641.6 eV" },
          { x: 628, y: 334, t: "Satellite" },
          { x: 580, y: 372, t: "Mn 2p", sub: "1/2", a: "start" },
          { x: 652, y: 389, t: "Mn 2p", sub: "3/2", a: "start" },
        ]}
        arrows={[[633, 337, 646, 344]]}
        yLabelX={547}
      />
      <XpsPanel
        id="c2"
        box={[749, 266.7, 921.7, 405]}
        domain={[593.85, 568.3]}
        ticks={crTicks}
        circles={crBotData}
        curves={[
          { d: crBotBg, c: XBLUE, w: 1.8 },
          { d: crBotGreen, c: XGREEN, w: 1.5 },
          { d: crBotRed, c: XRED, w: 1.5 },
          { d: crBotEnv, c: ORANGE, w: 2.2 },
        ]}
        anns={[
          { x: 916, y: 281, t: "Cr 2p", a: "end" },
          { x: 775, y: 306, t: "587.2 eV" },
          { x: 892, y: 326, t: "577.5 eV" },
          { x: 827, y: 334, t: "Satellite" },
          { x: 773, y: 372, t: "Cr 2p", sub: "1/2", a: "start" },
          { x: 843, y: 390, t: "Cr 2p", sub: "3/2", a: "start" },
        ]}
        arrows={[[832, 337, 843, 347]]}
        yLabelX={742}
      />
      <XpsPanel
        id="k2"
        box={[946.7, 265, 1121.7, 406]}
        domain={[295.1, 279.85]}
        ticks={c1sTicks}
        curves={[
          { d: c1sBotBg, c: XBLUE, w: 1.8 },
          { d: c1sBotPink, c: XPINK, w: 1.5 },
          { d: c1sBotGreen, c: XGREEN, w: 1.5 },
          { d: c1sBotRed, c: XRED, w: 1.5 },
          { d: c1sBotEnv, c: ORANGE, w: 2.2 },
        ]}
        dots={{ d: c1sBotData, c: "#6b4a2a" }}
        anns={[
          { x: 1112, y: 278, t: "C 1s", a: "end" },
          { x: 1095, y: 316, t: "284.8 eV" },
          { x: 1092, y: 328, t: "C-C" },
          { x: 1022, y: 335, t: "286.2 eV" },
          { x: 1022, y: 348, t: "C-O" },
          { x: 973, y: 353, t: "288.5 eV" },
          { x: 977, y: 365, t: "O-C=O" },
        ]}
        arrows={[
          [1030, 352, 1043, 361],
          [995, 368, 1010, 377],
        ]}
        yLabelX={939}
      />
    </svg>
  );
}
